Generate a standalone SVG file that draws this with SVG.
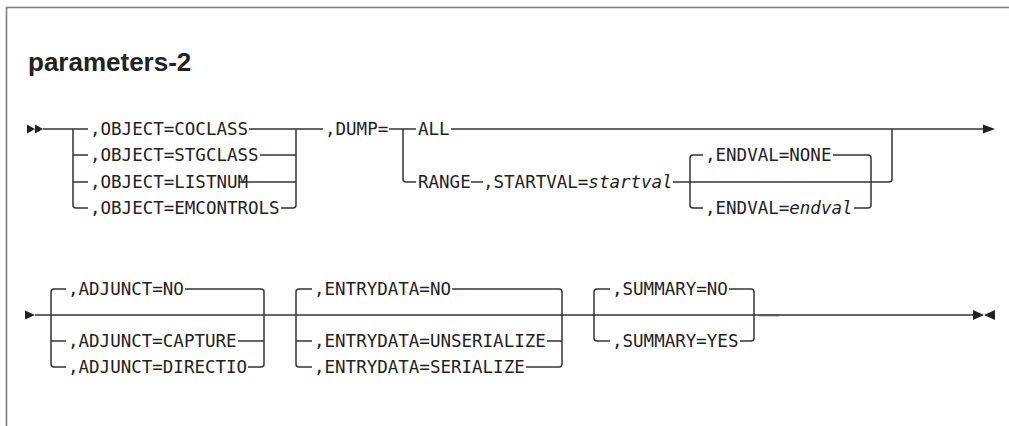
<svg xmlns="http://www.w3.org/2000/svg" width="1009" height="426" viewBox="0 0 1009 426">
<style>
.t{font-family:"DejaVu Sans Mono","Liberation Mono",monospace;font-size:17.5px;fill:#222}
.i{font-style:italic}
.title{font-family:"Liberation Sans",Arial,sans-serif;font-weight:bold;font-size:26px;fill:#222}
.r{fill:none;stroke:#333;stroke-width:1.5}
.a{fill:#222}
</style>
<rect x="6.5" y="7.5" width="1010" height="430" fill="none" stroke="#808080" stroke-width="1.6"/>
<text class="title" x="28" y="71">parameters-2</text>
<g id="connectors">
<polygon class="a" points="27,124.5 35,129 27,133.5"/>
<polygon class="a" points="35,124.5 43,129 35,133.5"/>
<path class="r" d="M43,129 H88 M73,129 V205 Q73,208 76,208 H88 M73,155 H88 M73,182 H88"/>
<path class="r" d="M249,129 H323 M260,155 H296 M239,182 H296 M281,208 H293 Q296,208 296,205 V129"/>
<path class="r" d="M389,129 H416 M403,129 V179 Q403,182 406,182 H416"/>
<path class="r" d="M451,129 H984"/>
<polygon class="a" points="983,124.5 995,129 983,133.5"/>
<path class="r" d="M471,182 H483 M673,182 H889 Q892,182 892,179 V129"/>
<path class="r" d="M703,155 H693 Q690,155 690,158 V205 Q690,208 693,208 H703"/>
<path class="r" d="M833,155 H868 Q871,155 871,158 V205 Q871,208 868,208 H854"/>
<polygon class="a" points="25,310.5 35,315 25,319.5"/>
<path class="r" d="M35,315 H974"/>
<path class="r" d="M66,289 H54 Q51,289 51,292 V364 Q51,367 54,367 H66 M51,341 H66"/>
<path class="r" d="M185,289 H261 Q264,289 264,292 V364 Q264,367 261,367 H248 M238,341 H264"/>
<path class="r" d="M312,289 H299 Q296,289 296,292 V364 Q296,367 299,367 H312 M296,341 H312"/>
<path class="r" d="M452,289 H559 Q562,289 562,292 V364 Q562,367 559,367 H526 M547,341 H562"/>
<path class="r" d="M610,289 H597 Q594,289 594,292 V338 Q594,341 597,341 H610"/>
<path class="r" d="M729,289 H751 Q754,289 754,292 V338 Q754,341 751,341 H740"/>
<path d="M759,315.3 H779" fill="none" stroke="#555" stroke-width="2"/>
<polygon class="a" points="973,310 984,315 973,320"/>
<polygon class="a" points="995,310 984,315 995,320"/>
</g>
<g id="object">
<text class="t" x="90" y="135">,OBJECT=COCLASS</text>
<text class="t" x="90" y="161">,OBJECT=STGCLASS</text>
<text class="t" x="90" y="188">,OBJECT=LISTNUM</text>
<text class="t" x="90" y="214">,OBJECT=EMCONTROLS</text>
</g>
<g id="dump">
<text class="t" x="325" y="135">,DUMP=</text>
<text class="t" x="418" y="135">ALL</text>
<text class="t" x="418" y="188">RANGE</text>
<text class="t" x="483" y="188">,STARTVAL=<tspan class="i">startval</tspan></text>
</g>
<g id="endval">
<text class="t" x="705" y="161">,ENDVAL=NONE</text>
<text class="t" x="705" y="214">,ENDVAL=<tspan class="i">endval</tspan></text>
</g>
<g id="adjunct">
<text class="t" x="68" y="295">,ADJUNCT=NO</text>
<text class="t" x="68" y="347">,ADJUNCT=CAPTURE</text>
<text class="t" x="68" y="373">,ADJUNCT=DIRECTIO</text>
</g>
<g id="entrydata">
<text class="t" x="314" y="295">,ENTRYDATA=NO</text>
<text class="t" x="314" y="347">,ENTRYDATA=UNSERIALIZE</text>
<text class="t" x="314" y="373">,ENTRYDATA=SERIALIZE</text>
</g>
<g id="summary">
<text class="t" x="612" y="295">,SUMMARY=NO</text>
<text class="t" x="612" y="347">,SUMMARY=YES</text>
</g>
</svg>
